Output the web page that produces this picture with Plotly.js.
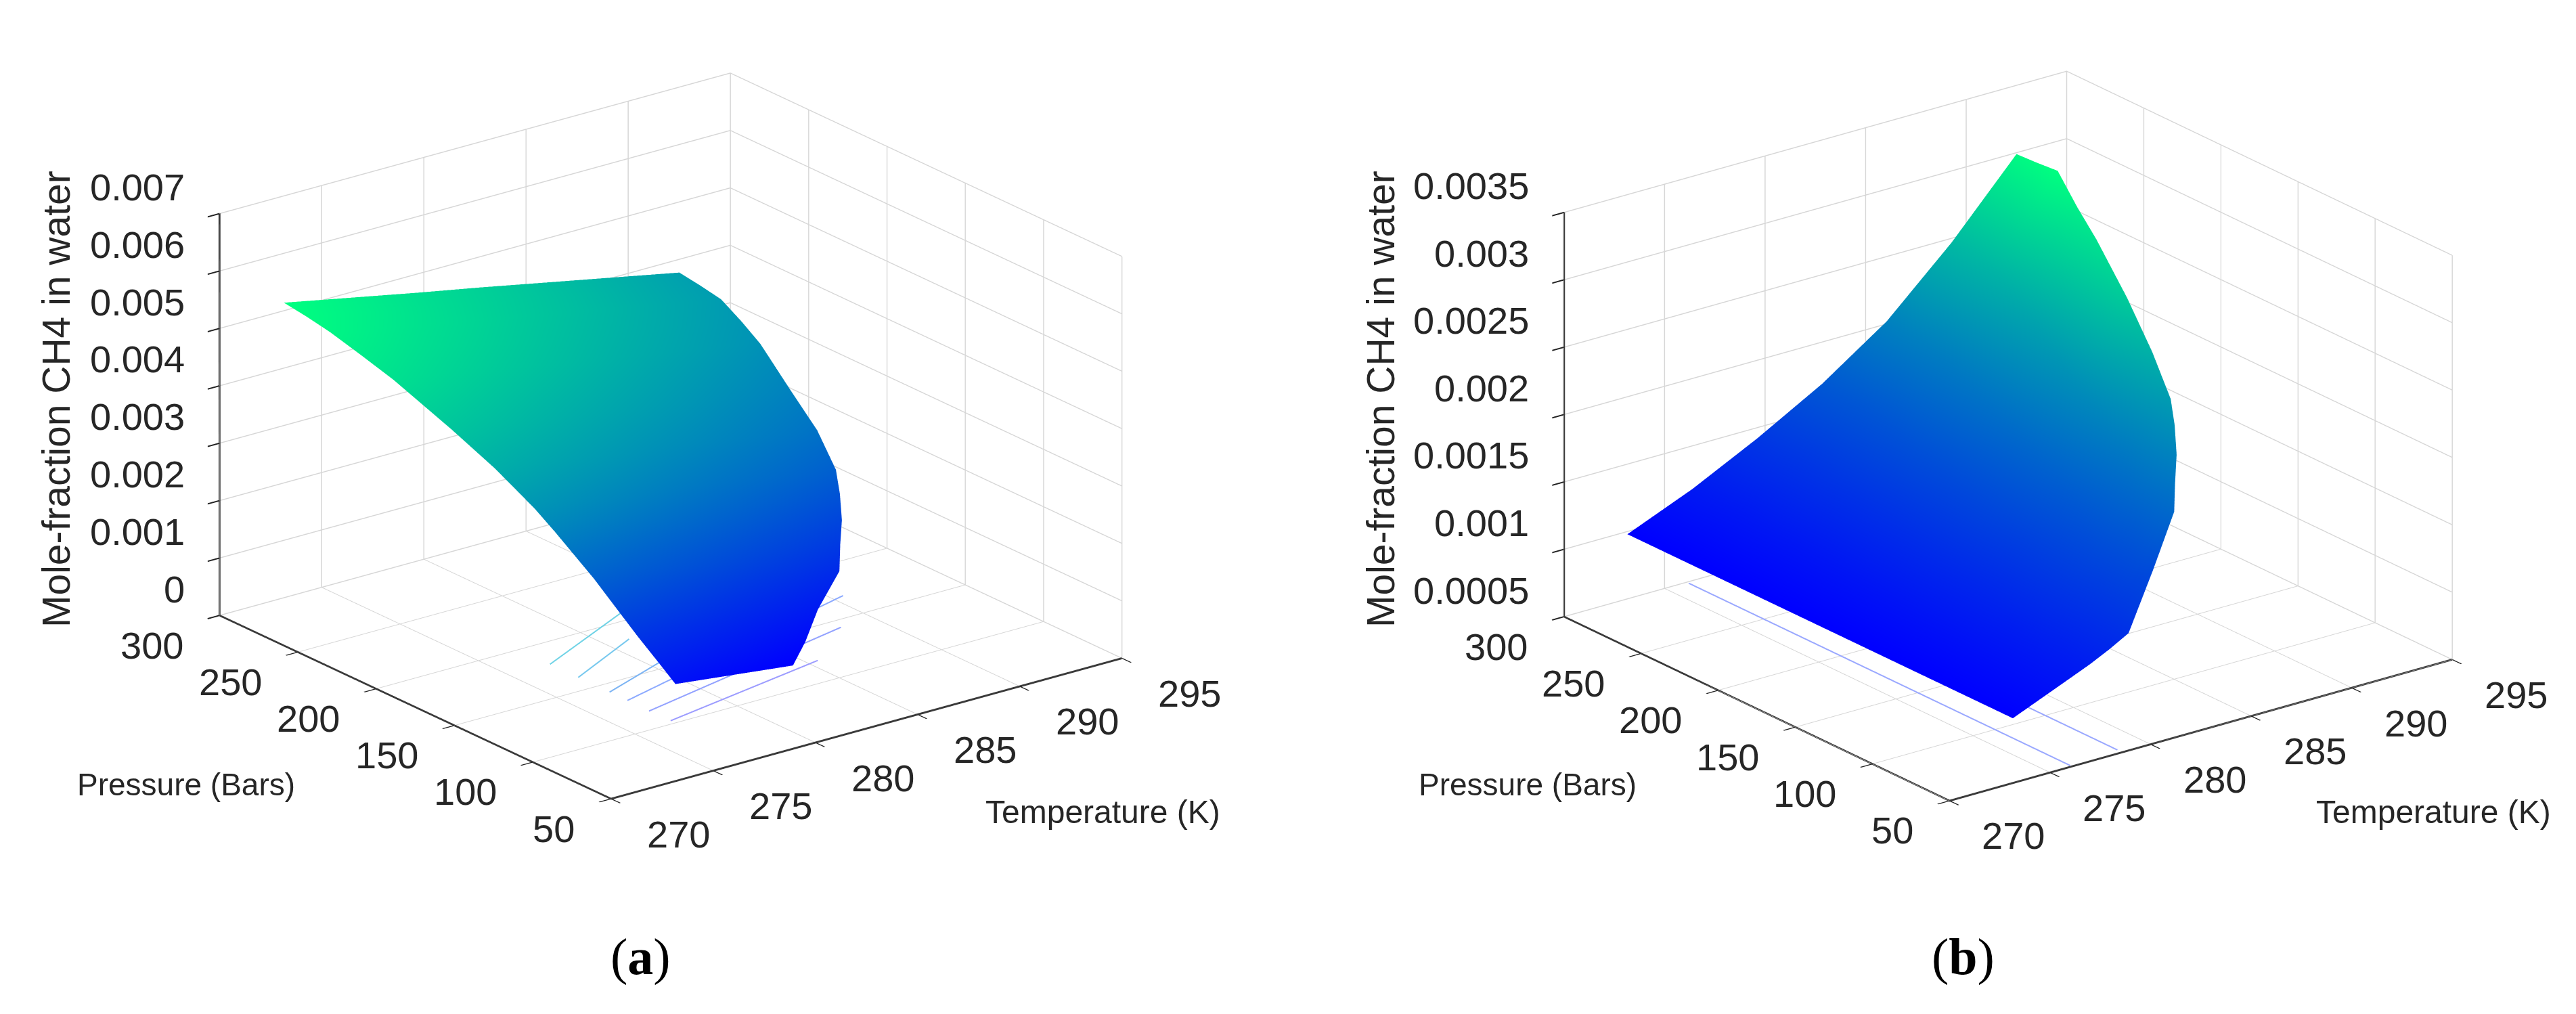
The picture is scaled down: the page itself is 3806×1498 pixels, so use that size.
<!DOCTYPE html>
<html><head><meta charset="utf-8">
<script src="https://cdn.plot.ly/plotly-3.0.1.min.js"></script>
<style>html,body{margin:0;padding:0;background:#fff}</style></head>
<body><div id="plot" style="width:3806px;height:1498px"></div>
<script>
// Grid rows (pressure, bar) and temperature columns per row (K)
const pressure = [50,60,74,90,102,114,127,140,165,193,230,250,270,285,300];
const tempGrid = [
 [273.15,274.11,275.07,276.03,276.98,277.94,278.90],
 [273.15,274.34,275.52,276.71,277.90,279.08,280.27],
 [273.15,274.62,276.09,277.56,279.02,280.49,281.96],
 [273.15,275.00,276.85,278.70,280.54,282.39,284.24],
 [273.15,275.16,277.17,279.18,281.18,283.19,285.20],
 [273.15,275.33,277.50,279.68,281.85,284.03,286.20],
 [273.15,275.48,277.80,280.13,282.45,284.78,287.10],
 [273.15,275.61,278.07,280.53,282.98,285.44,287.90],
 [273.15,275.78,278.40,281.03,283.65,286.28,288.90],
 [273.15,275.93,278.70,281.48,284.25,287.03,289.80],
 [273.15,276.14,279.13,282.13,285.12,288.11,291.10],
 [273.15,276.24,279.33,282.43,285.52,288.61,291.70],
 [273.15,276.33,279.52,282.70,285.88,289.07,292.25],
 [273.15,276.36,279.57,282.78,285.98,289.19,292.40],
 [273.15,276.38,279.60,282.83,286.05,289.28,292.50]];
// Mole fraction x 1000, panel (a)
const moleA = [
 [1.69,1.65,1.61,1.57,1.53,1.49,1.45],
 [1.91,1.86,1.81,1.76,1.71,1.65,1.60],
 [2.21,2.14,2.08,2.01,1.95,1.88,1.82],
 [2.58,2.49,2.41,2.32,2.23,2.15,2.06],
 [2.86,2.76,2.67,2.57,2.47,2.38,2.28],
 [3.10,2.99,2.88,2.78,2.67,2.56,2.45],
 [3.36,3.24,3.12,3.00,2.89,2.77,2.65],
 [3.60,3.47,3.34,3.21,3.08,2.96,2.83],
 [3.97,3.82,3.68,3.53,3.39,3.24,3.10],
 [4.30,4.14,3.97,3.81,3.65,3.48,3.32],
 [4.69,4.50,4.31,4.12,3.93,3.75,3.56],
 [4.85,4.65,4.45,4.24,4.04,3.84,3.64],
 [5.00,4.78,4.57,4.35,4.14,3.92,3.71],
 [5.08,4.86,4.63,4.41,4.19,3.96,3.74],
 [5.14,4.91,4.68,4.46,4.23,4.00,3.77]];
// Mole fraction x 1000, panel (b)
const moleB = [
 [0.98,1.04,1.10,1.16,1.22,1.29,1.37],
 [0.98,1.05,1.13,1.20,1.29,1.38,1.49],
 [0.98,1.07,1.16,1.26,1.37,1.49,1.58],
 [0.98,1.09,1.21,1.35,1.49,1.65,1.83],
 [0.98,1.10,1.23,1.39,1.55,1.72,1.93],
 [0.98,1.11,1.26,1.43,1.60,1.81,2.04],
 [0.98,1.12,1.28,1.46,1.65,1.88,2.15],
 [0.98,1.13,1.30,1.49,1.70,1.95,2.24],
 [0.98,1.14,1.33,1.54,1.77,2.05,2.41],
 [0.98,1.15,1.35,1.57,1.83,2.14,2.62],
 [0.98,1.16,1.38,1.63,1.92,2.28,2.80],
 [0.98,1.17,1.40,1.65,1.96,2.36,2.90],
 [0.98,1.17,1.41,1.67,2.00,2.44,3.04],
 [0.98,1.18,1.42,1.68,2.02,2.46,3.01],
 [0.98,1.18,1.42,1.69,2.02,2.47,2.99]];
// Floor contour lines
const contourTA = [[276.9,282.6],[276.9,281.0],[276.9,283.0],[276.9,290.45],[276.87,288.3],[276.9,285.4]];
const contourPA = [[179,207],[161,182],[141,165],[129.6,168.7],[115.4,142],[102,119]];
const contourColorA = ['#6fd3e6','#76c8ee','#7cb4f4','#8caaff','#93a2ff','#9c9cff'];
const contourTB = [[276.0,276.01],[278.5,278.51]];
const contourPB = [[50,297.5],[52,290]];
const contourColorB = ['#9aa8ff','#9aa8ff'];
// Axes
const tempTicks = [270,275,280,285,290,295];
const pressTicks = [50,100,150,200,250,300];
const zTicksA = [0,0.001,0.002,0.003,0.004,0.005,0.006,0.007];
const zLabelsA = ['0','0.001','0.002','0.003','0.004','0.005','0.006','0.007'];
const zTicksB = [0.0005,0.001,0.0015,0.002,0.0025,0.003,0.0035];
const zLabelsB = ['0.0005','0.001','0.0015','0.002','0.0025','0.003','0.0035'];
const winter = [[0,'#0000ff'],[1,'#00ff80']];
const W=3806,H=1498;
const ink='#262626';

function axis(range,ticks){return {range:range,autorange:false,tickmode:'array',tickvals:ticks,showticklabels:false,
  ticks:'outside',ticklen:22,tickwidth:4,tickcolor:'#222',showline:true,linecolor:'#3a3a3a',linewidth:6,
  showgrid:true,gridcolor:'#d6d6d6',gridwidth:3,zeroline:false,showbackground:false,showspikes:false,title:{text:''}};}
function tickAnno(o){
  const out=[];
  o.press.forEach(p=>out.push({x:o.xr[0],y:p,z:o.zr[0],text:String(p),showarrow:false,xanchor:'right',yanchor:'middle',xshift:-51,yshift:-44,font:{family:'Liberation Sans',size:56,color:ink}}));
  o.temp.forEach(t=>out.push({x:t,y:o.yr[0],z:o.zr[0],text:String(t),showarrow:false,xanchor:'center',yanchor:'middle',xshift:o.tx,yshift:-52,font:{family:'Liberation Sans',size:56,color:ink}}));
  o.zt.forEach((z,i)=>out.push({x:o.xr[0],y:o.yr[1],z:z,text:o.zl[i],showarrow:false,xanchor:'right',yanchor:'middle',xshift:-49,yshift:39,font:{family:'Liberation Sans',size:56,color:ink}}));
  return out;
}
function scene(cx,cy,zr,zt,asp,eye,o){
  const hw=830,hh=600;
  return {domain:{x:[(cx-hw)/W,(cx+hw)/W],y:[1-(cy+hh)/H,1-(cy-hh)/H]},
   aspectmode:'manual',aspectratio:asp,
   camera:{eye:eye,up:{x:0,y:0,z:1},center:{x:0,y:0,z:0},projection:{type:'orthographic'}},
   xaxis:axis([270,295],tempTicks),yaxis:axis([50,300],pressTicks),zaxis:axis(zr,zt),
   bgcolor:'#fff',annotations:tickAnno(o)};
}
const data=[];
function addPanel(sc,mole,ct,cp,cc,zfloor){
  const z=mole.map(r=>r.map(v=>v/1000));
  const y=tempGrid.map((r,i)=>r.map(()=>pressure[i]));
  const fl=z.flat();
  data.push({type:'surface',scene:sc,x:tempGrid,y:y,z:z,colorscale:winter,cmin:Math.min(...fl),cmax:Math.max(...fl),showscale:false,hoverinfo:'skip',
    lighting:{ambient:1,diffuse:0,specular:0,roughness:1,fresnel:0}});
  ct.forEach((t,i)=>data.push({type:'scatter3d',scene:sc,mode:'lines',x:t,y:cp[i],z:[zfloor,zfloor],line:{color:cc[i],width:4},hoverinfo:'skip',showlegend:false}));
}
addPanel('scene',moleA,contourTA,contourPA,contourColorA,0.00002);
addPanel('scene2',moleB,contourTB,contourPB,contourColorB,0.00051);
function paper(px,py,text,size,fam,extra){return Object.assign({xref:'paper',yref:'paper',x:px/W,y:1-py/H,text:text,showarrow:false,xanchor:'center',yanchor:'middle',font:{family:fam,size:size,color:ink}},extra||{});}
const layout={width:W,height:H,margin:{l:0,r:0,t:0,b:0},paper_bgcolor:'#fff',showlegend:false,
 scene:scene(990.5,644,[0,0.007],zTicksA,{x:1.585,y:1.585,z:1.06},{x:-.568,y:-.741,z:.359},{press:pressTicks,temp:tempTicks,zt:zTicksA,zl:zLabelsA,xr:[270,295],yr:[50,300],zr:[0,0.007],tx:100}),
 scene2:scene(2966.5,644,[0.0005,0.003501],zTicksB,{x:1.56,y:1.56,z:1.07},{x:-.566,y:-.738,z:.366},{press:pressTicks,temp:tempTicks,zt:zTicksB,zl:zLabelsB,xr:[270,295],yr:[50,300],zr:[0.0005,0.003501],tx:95}),
 annotations:[
  paper(275,1159,'Pressure (Bars)',46,'Liberation Sans'),
  paper(1629,1199,'Temperature (K)',48,'Liberation Sans'),
  paper(83,590,'Mole-fraction CH4 in water',57,'Liberation Sans',{textangle:-90}),
  paper(946,1413,'(<b>a</b>)',76,'Liberation Serif',{font:{family:'Liberation Serif',size:76,color:'#000'}}),
  paper(2257,1159,'Pressure (Bars)',46,'Liberation Sans'),
  paper(3595,1199,'Temperature (K)',48,'Liberation Sans'),
  paper(2040,590,'Mole-fraction CH4 in water',57,'Liberation Sans',{textangle:-90}),
  paper(2900,1413,'(<b>b</b>)',76,'Liberation Serif',{font:{family:'Liberation Serif',size:76,color:'#000'}})
 ]};
Plotly.newPlot('plot',data,layout,{displayModeBar:false,staticPlot:false,responsive:false});
</script></body></html>
